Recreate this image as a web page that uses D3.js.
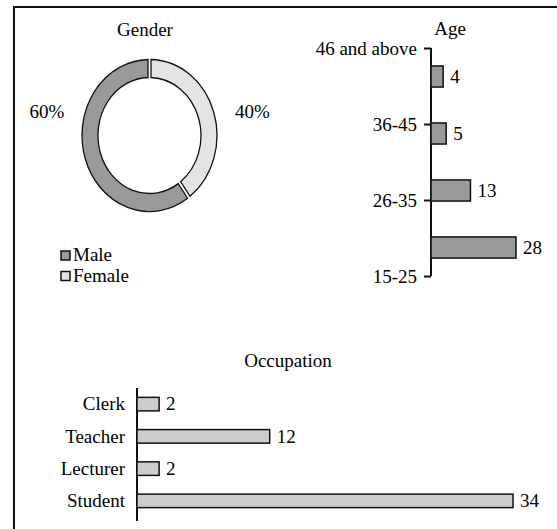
<!DOCTYPE html>
<html>
<head>
<meta charset="utf-8">
<script src="https://cdn.jsdelivr.net/npm/d3@7"></script>
<style>
  html, body { margin: 0; padding: 0; background: #fff; }
  svg text { font-family: 'Liberation Serif', 'DejaVu Serif', serif; fill: #000; }
</style>
</head>
<body>
<svg id="chart" width="557" height="529"></svg>
<script>
// ---- Data ----
const genderLabels = ["Male", "Female"];
const genderValues = [60, 40];
const genderPctLabels = ["60%", "40%"];

const ageLabels = ["46 and above", "36-45", "26-35", "15-25"];
const ageValues = [4, 5, 13, 28];

const occLabels = ["Clerk", "Teacher", "Lecturer", "Student"];
const occValues = [2, 12, 2, 34];

// ---- Setup ----
const svg = d3.select("#chart");
const FS = 19;
const FONT = "'Liberation Serif', 'DejaVu Serif', serif";

// frame (top and left borders)
svg.append("line").attr("x1", 14).attr("x2", 557).attr("y1", 7).attr("y2", 7)
  .attr("stroke", "#111").attr("stroke-width", 2);
svg.append("line").attr("x1", 14).attr("x2", 14).attr("y1", 6).attr("y2", 529)
  .attr("stroke", "#111").attr("stroke-width", 2);

// ---- Gender donut ----
const genderColor = d3.scaleOrdinal().domain(genderLabels).range(["#999999", "#e4e4e4"]);
const pie = d3.pie().sort(null).value(d => d.v).startAngle(0).endAngle(-2 * Math.PI).padAngle(0.035);
const arcs = pie(genderLabels.map((g, i) => ({ g, v: genderValues[i] })));
const arc = d3.arc().innerRadius(58).outerRadius(76);
const donut = svg.append("g").attr("transform", "translate(149.5,135.5) scale(0.888,1)");
donut.selectAll("path").data(arcs).join("path")
  .attr("d", arc)
  .attr("fill", d => genderColor(d.data.g))
  .attr("stroke", "#111")
  .attr("stroke-width", 1.3)
  .attr("vector-effect", "non-scaling-stroke");

svg.append("text").attr("x", 145).attr("y", 36).attr("text-anchor", "middle")
  .attr("font-size", FS).text("Gender");
const pctX = [47, 252.5];
svg.selectAll("text.pct").data(genderPctLabels).join("text").attr("class", "pct")
  .attr("x", (d, i) => pctX[i]).attr("y", 118).attr("text-anchor", "middle")
  .attr("font-size", FS).text(d => d);

// legend
const leg = svg.append("g");
genderLabels.forEach((g, i) => {
  const by = 261 + i * 20.5;
  leg.append("rect").attr("x", 61).attr("y", by - 10).attr("width", 9).attr("height", 9)
    .attr("fill", genderColor(g)).attr("stroke", "#111").attr("stroke-width", 1.5);
  leg.append("text").attr("x", 73).attr("y", by).attr("font-size", FS).text(g);
});

// ---- Age bar chart ----
const ageBand = d3.scaleBand().domain(ageLabels).range([48, 276]).paddingInner(0.63).paddingOuter(0.315);
const agePoint = d3.scalePoint().domain(ageLabels).range([48, 276]);
const ageX = d3.scaleLinear().domain([0, 28]).range([431, 516]);

svg.append("text").attr("x", 450).attr("y", 35).attr("text-anchor", "middle")
  .attr("font-size", FS).text("Age");

const ageAxis = svg.append("g").attr("transform", "translate(431,0)")
  .call(d3.axisLeft(agePoint).tickSize(7).tickPadding(7));
ageAxis.attr("font-family", null).attr("font-size", null);
ageAxis.select(".domain").attr("d", "M0,48V276").attr("stroke", "#111").attr("stroke-width", 2);
ageAxis.selectAll(".tick line").attr("stroke", "#111").attr("stroke-width", 2);
ageAxis.selectAll(".tick text").attr("font-size", FS)
  .style("font-family", FONT).attr("fill", "#000").attr("dy", "0.33em");

svg.selectAll("rect.age").data(ageValues).join("rect").attr("class", "age")
  .attr("x", ageX(0)).attr("y", (d, i) => ageBand(ageLabels[i]))
  .attr("width", d => ageX(d) - ageX(0)).attr("height", ageBand.bandwidth())
  .attr("fill", "#999999").attr("stroke", "#111").attr("stroke-width", 1.5);
svg.selectAll("text.ageval").data(ageValues).join("text").attr("class", "ageval")
  .attr("x", d => ageX(d) + 7).attr("y", (d, i) => ageBand(ageLabels[i]) + ageBand.bandwidth() / 2)
  .attr("dy", "0.33em").attr("font-size", FS).text(d => d);

// ---- Occupation bar chart ----
const occBand = d3.scaleBand().domain(occLabels).range([388, 517]).paddingInner(0.58).paddingOuter(0.29);
const occX = d3.scaleLinear().domain([0, 34]).range([137, 513]);

svg.append("text").attr("x", 288).attr("y", 367).attr("text-anchor", "middle")
  .attr("font-size", FS).text("Occupation");

const occAxis = svg.append("g").attr("transform", "translate(137,0)")
  .call(d3.axisLeft(occBand).tickSize(0).tickPadding(12));
occAxis.attr("font-family", null).attr("font-size", null);
occAxis.select(".domain").attr("d", "M0,388V521").attr("stroke", "#111").attr("stroke-width", 2);
occAxis.selectAll(".tick text").attr("font-size", FS)
  .style("font-family", FONT).attr("fill", "#000").attr("dy", "0.33em");

svg.selectAll("rect.occ").data(occValues).join("rect").attr("class", "occ")
  .attr("x", occX(0)).attr("y", (d, i) => occBand(occLabels[i]))
  .attr("width", d => occX(d) - occX(0)).attr("height", occBand.bandwidth())
  .attr("fill", "#cccccc").attr("stroke", "#111").attr("stroke-width", 1.5);
svg.selectAll("text.occval").data(occValues).join("text").attr("class", "occval")
  .attr("x", d => occX(d) + 7).attr("y", (d, i) => occBand(occLabels[i]) + occBand.bandwidth() / 2)
  .attr("dy", "0.33em").attr("font-size", FS).text(d => d);

svg.selectAll("text").style("font-family", FONT);
</script>
</body>
</html>
